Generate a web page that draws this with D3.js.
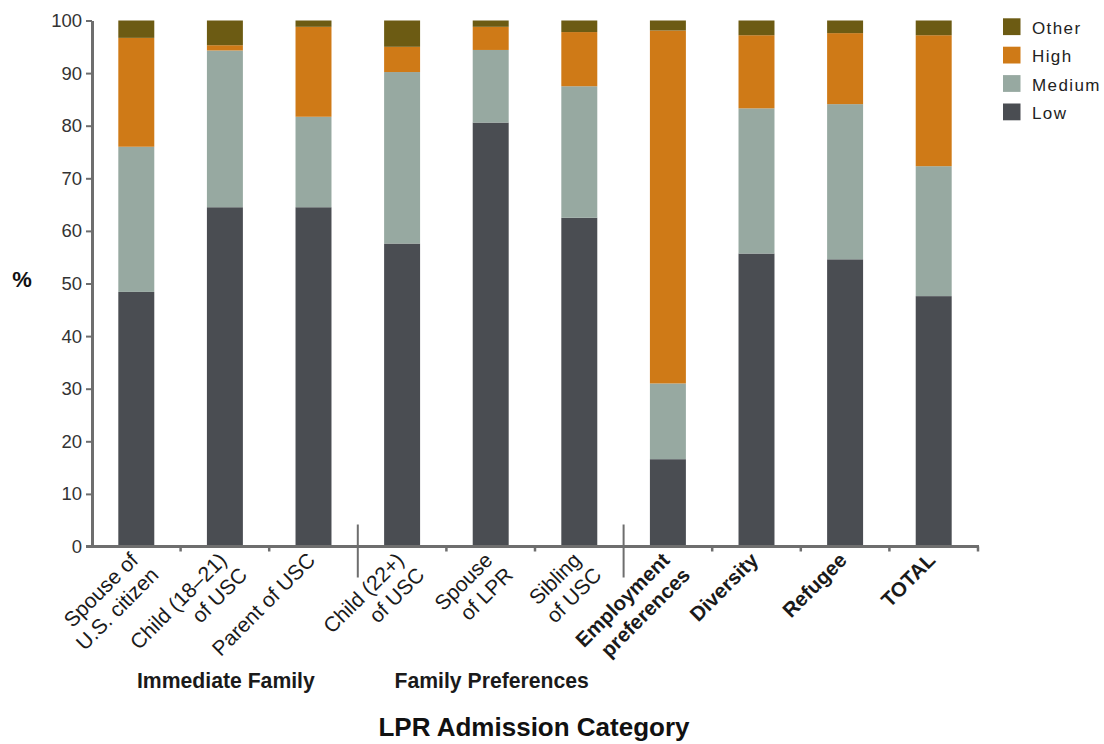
<!DOCTYPE html>
<html>
<head>
<meta charset="utf-8">
<script src="https://cdn.jsdelivr.net/npm/d3@7"></script>
<style>
  html, body { margin: 0; padding: 0; background: #fff; }
  svg { display: block; font-family: "Liberation Sans", Arial, Helvetica, sans-serif; }
</style>
</head>
<body>
<svg id="chart" width="1104" height="744"></svg>
<script>
// ---- Data ----
const categories = [
  "Spouse of\nU.S. citizen",
  "Child (18\u201321)\nof USC",
  "Parent of USC",
  "Child (22+)\nof USC",
  "Spouse\nof LPR",
  "Sibling\nof USC",
  "Employment\npreferences",
  "Diversity",
  "Refugee",
  "TOTAL"
];
const boldCategories = [false, false, false, false, false, false, true, true, true, true];
const lowValues    = [48.4, 64.5, 64.5, 57.6, 80.6, 62.5, 16.6, 55.7, 54.6, 47.6];
const mediumValues = [27.6, 29.8, 17.2, 32.6, 13.8, 25.0, 14.4, 27.6, 29.5, 24.7];
const highValues   = [20.7,  1.0, 17.1,  4.8,  4.4, 10.3, 67.1, 13.9, 13.5, 24.9];
const otherValues  = [ 3.3,  4.7,  1.2,  5.0,  1.2,  2.2,  1.9,  2.8,  2.4,  2.8];
const seriesNames = ["Low", "Medium", "High", "Other"];
const seriesColors = ["#4a4d52", "#97a9a1", "#cf7a17", "#6c5b13"];
const yTicks = [0, 10, 20, 30, 40, 50, 60, 70, 80, 90, 100];
const groupLabels = ["Immediate Family", "Family Preferences"];
const groupCenterIndex = [1, 4];
const separatorAfter = [2, 5];
const yAxisLabel = "%";
const xAxisTitle = "LPR Admission Category";

(function () {
// ---- Build table ----
const table = categories.map((c, i) => ({
  cat: c, Low: lowValues[i], Medium: mediumValues[i], High: highValues[i], Other: otherValues[i]
}));
const stacked = d3.stack().keys(seriesNames)(table);

const svg = d3.select("#chart");
const mLeft = 92, mRight = 978, mTop = 20.5, mBottom = 546.5;

const x = d3.scaleBand().domain(categories).range([mLeft, mRight])
  .paddingInner(0.594).paddingOuter(0.297);
const y = d3.scaleLinear().domain([0, 100]).range([mBottom, mTop]);
const color = d3.scaleOrdinal().domain(seriesNames).range(seriesColors);

// bars
svg.append("g").selectAll("g").data(stacked).join("g")
  .attr("fill", d => color(d.key))
  .selectAll("rect").data(d => d).join("rect")
  .attr("x", d => x(d.data.cat))
  .attr("width", x.bandwidth())
  .attr("y", d => y(d[1]))
  .attr("height", d => y(d[0]) - y(d[1]));

const axisColor = "#6e6e6e";

// y axis
const yAxis = svg.append("g").attr("transform", `translate(${mLeft},0)`)
  .call(d3.axisLeft(y).tickValues(yTicks).tickSize(6).tickSizeOuter(0).tickPadding(4));
yAxis.select(".domain").attr("stroke", axisColor).attr("stroke-width", 3);
yAxis.selectAll(".tick line").attr("stroke", axisColor).attr("stroke-width", 2);
yAxis.selectAll(".tick text").attr("fill", "#333").style("font-size", "18.5px")
  .style("font-family", "'Liberation Sans', Arial, sans-serif");

// x axis line
const step = x.step();
svg.append("line")
  .attr("x1", mLeft - 6).attr("x2", mRight + 1)
  .attr("y1", mBottom).attr("y2", mBottom)
  .attr("stroke", axisColor).attr("stroke-width", 3);

// boundary ticks
const boundaries = categories.map(c => x(c) + x.bandwidth() / 2 + step / 2);
svg.append("g").selectAll("line").data(boundaries.filter((b, i) => !separatorAfter.includes(i))).join("line")
  .attr("x1", d => d).attr("x2", d => d)
  .attr("y1", mBottom).attr("y2", mBottom + 5)
  .attr("stroke", axisColor).attr("stroke-width", 2.5);

// separators
svg.append("g").selectAll("line").data(separatorAfter.map(i => boundaries[i])).join("line")
  .attr("x1", d => d).attr("x2", d => d)
  .attr("y1", mBottom - 22).attr("y2", mBottom + 31)
  .attr("stroke", axisColor).attr("stroke-width", 2);

// category labels
const lh = 25;
const labelG = svg.append("g").selectAll("g").data(categories).join("g")
  .attr("transform", d => `translate(${x(d) + x.bandwidth() / 2 + 3},${mBottom + 15}) rotate(-45)`);
labelG.append("text")
  .attr("text-anchor", "end")
  .attr("fill", "#1a1a1a")
  .style("font-size", (d, i) => boldCategories[i] ? "20.5px" : "21px")
  .style("font-weight", (d, i) => boldCategories[i] ? "bold" : "normal")
  .each(function(d) {
    const lines = d.split("\n");
    const t = d3.select(this);
    lines.forEach((ln, k) => {
      t.append("tspan").attr("x", k * 4).attr("y", k * lh).text(ln);
    });
  });

// group labels
svg.append("g").selectAll("text").data(groupLabels).join("text")
  .attr("x", (d, i) => x(categories[groupCenterIndex[i]]) + x.bandwidth() / 2 + 1)
  .attr("y", 688)
  .attr("text-anchor", "middle")
  .attr("fill", "#1a1a1a")
  .style("font-size", "21.2px")
  .style("font-weight", "bold")
  .text(d => d);

// x title
svg.append("text")
  .attr("x", 534).attr("y", 736)
  .attr("text-anchor", "middle")
  .attr("fill", "#111")
  .style("font-size", "26px").style("font-weight", "bold")
  .text(xAxisTitle);

// y label
svg.append("text")
  .attr("x", 22).attr("y", 287)
  .attr("text-anchor", "middle")
  .attr("fill", "#111")
  .style("font-size", "22px").style("font-weight", "bold")
  .text(yAxisLabel);

// legend
const legendOrder = seriesNames.slice().reverse();
const lg = svg.append("g").selectAll("g").data(legendOrder).join("g")
  .attr("transform", (d, i) => `translate(1003,${18.3 + i * 28.4})`);
lg.append("rect").attr("width", 17.5).attr("height", 16.8).attr("fill", d => color(d));
lg.append("text").attr("x", 29).attr("y", 15.5)
  .attr("fill", "#222")
  .style("font-size", "17px")
  .style("letter-spacing", "1.4px")
  .text(d => d);
})();
</script>
</body>
</html>
